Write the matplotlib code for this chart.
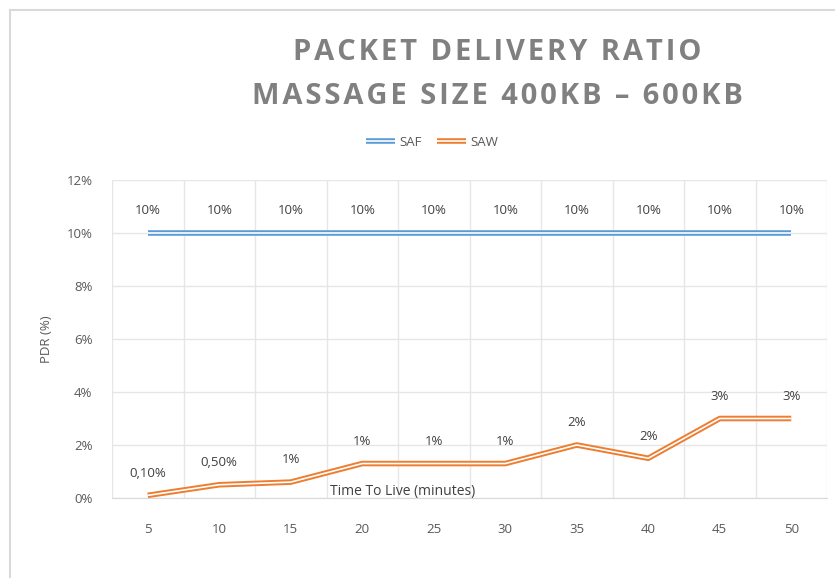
import matplotlib
matplotlib.use("Agg")
import matplotlib.pyplot as plt
import matplotlib.patheffects as pe
from matplotlib.patches import Rectangle
import numpy as np

categories = ["5", "10", "15", "20", "25", "30", "35", "40", "45", "50"]
saf = [10, 10, 10, 10, 10, 10, 10, 10, 10, 10]
saw = [0.1, 0.5, 0.6, 1.3, 1.3, 1.3, 2.0, 1.5, 3.0, 3.0]
saf_labels = ["10%"] * 10
saw_labels = ["0,10%", "0,50%", "1%", "1%", "1%", "1%", "2%", "2%", "3%", "3%"]
yticks = [0, 2, 4, 6, 8, 10, 12]
title1 = "PACKET DELIVERY RATIO"
title2 = "MASSAGE SIZE 400KB – 600KB"

plt.rcParams['font.family'] = ['Open Sans', 'DejaVu Sans']

W, H = 835, 578
fig = plt.figure(figsize=(W / 100, H / 100), dpi=100)
fig.patches.append(Rectangle((10 / W, -0.1), 1.2, 1 - 10 / H + 0.1, transform=fig.transFigure,
                             fill=False, edgecolor="#D9D9D9", linewidth=1.5))

ax = fig.add_axes([112 / W, 1 - 498 / H, (827 - 112) / W, (498 - 180) / H])
x = np.arange(len(categories))

blue = "#5B9BD5"
orange = "#ED7D31"

for vals, col, lab in [(saf, blue, "SAF"), (saw, orange, "SAW")]:
    ax.plot(x, vals, color=col, linewidth=4.0, solid_capstyle="butt", label=lab,
            path_effects=[pe.Stroke(linewidth=4.0, foreground=col),
                          pe.Stroke(linewidth=1.2, foreground="white")])

for xi, v, t in zip(x, saf, saf_labels):
    ax.annotate(t, (xi, v), xytext=(0, 16), textcoords="offset points", ha="center", va="center",
                fontsize=9.5, color="#404040")
for xi, v, t in zip(x, saw, saw_labels):
    ax.annotate(t, (xi, v), xytext=(0, 16), textcoords="offset points", ha="center", va="center",
                fontsize=9.5, color="#404040")

ax.set_xlim(-0.5, len(categories) - 0.5)
ax.set_ylim(0, 12)
ax.set_yticks(yticks)
ax.set_yticklabels([f"{t}%" for t in yticks])
ax.set_xticks(x)
ax.set_xticklabels(categories)
ax.set_xticks(np.arange(-0.5, len(categories) + 0.5, 1), minor=True)
ax.tick_params(axis="both", which="both", length=0, labelsize=9.5, colors="#595959")
ax.tick_params(axis="x", pad=18)
ax.tick_params(axis="y", pad=14)
ax.grid(True, axis="y", which="major", color="#E6E6E6", linewidth=1)
ax.grid(True, axis="x", which="minor", color="#E6E6E6", linewidth=1)
ax.set_axisbelow(True)
for s in ["left", "right", "top"]:
    ax.spines[s].set_visible(False)
ax.spines["bottom"].set_color("#D9D9D9")

ax.set_ylabel("PDR (%)", fontsize=9.5, color="#595959", labelpad=10)
ax.text(403 / W, 1 - 492 / H, "Time To Live (minutes)", transform=fig.transFigure,
        ha="center", va="center", fontsize=10, color="#404040")

sp = "\u200a"
fig.text(497 / W, 1 - 52 / H, sp.join(title1), ha="center", va="center",
         fontsize=21, fontweight="bold", color="#808080")
fig.text(497 / W, 1 - 97 / H, sp.join(title2), ha="center", va="center",
         fontsize=21, fontweight="bold", color="#808080")

leg = ax.legend(loc="center", bbox_to_anchor=(432 / W, 1 - 142 / H), bbox_transform=fig.transFigure,
                ncol=2, frameon=False, fontsize=9.5, handlelength=2.2, columnspacing=1.2, handletextpad=0.3)
for txt in leg.get_texts():
    txt.set_color("#595959")

fig.savefig("out.png", dpi=100)
